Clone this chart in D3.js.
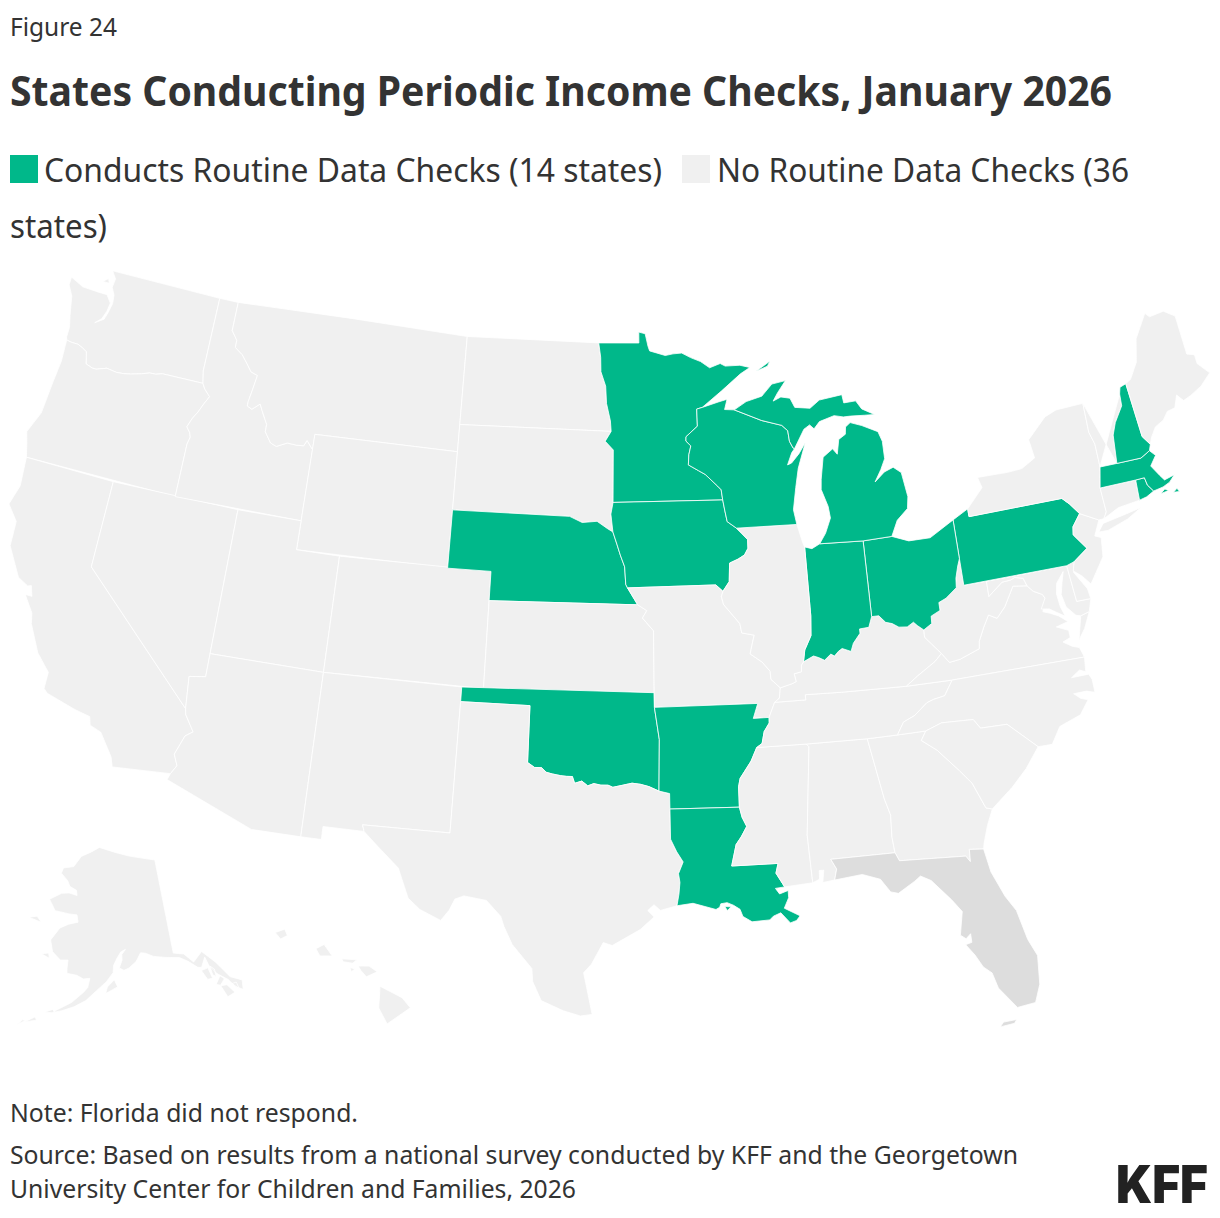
<!DOCTYPE html>
<html>
<head>
<meta charset="utf-8">
<script src="https://cdn.jsdelivr.net/npm/d3@7"></script>
<style>
html, body { margin: 0; background: #fff; }
svg { display: block; }
text { font-family: "Noto Sans", sans-serif; fill: #333; }
</style>
</head>
<body>
<svg id="chart" width="1220" height="1218"></svg>
<script>
const conducts = ["Minnesota", "Michigan", "Wisconsin", "Iowa", "Nebraska", "Oklahoma", "Arkansas", "Louisiana",
    "Indiana", "Ohio", "Pennsylvania", "New Hampshire", "Massachusetts", "Rhode Island"]
const noResponse = ["Florida"]
const legendLabels = ["Conducts Routine Data Checks (14 states)", "No Routine Data Checks (36", "states)"]

// shared borders, lon/lat
const columbia = [[-124.0,46.25],[-123.75,46.22],[-123.4,46.22],[-123.15,46.15],[-122.9,46.05],[-122.82,45.85],[-122.75,45.65],[-122.4,45.57],[-122.2,45.57],[-121.7,45.7],[-121.2,45.65],[-120.85,45.67],[-120.5,45.72],[-120,45.82],[-119.6,45.92],[-119.3,45.93],[-118.98,46.0],[-116.92,46.0]]
const snake = [[-116.92,46.0],[-116.78,45.83],[-116.46,45.6],[-116.67,45.3],[-116.85,45.0],[-117.05,44.75],[-117.22,44.42],[-117.03,44.25],[-116.95,44.1],[-117.03,43.85],[-117.03,42.0]]
const idMt = [[-116.05,49],[-116.05,48.0],[-115.72,47.7],[-115.72,47.45],[-115.3,47.25],[-115,47.0],[-114.7,46.73],[-114.35,46.65],[-114.45,46.15],[-114.55,45.7],[-114.55,45.55],[-114.3,45.47],[-113.95,45.7],[-113.8,45.5],[-113.45,45.05],[-113.45,44.8],[-113.1,44.45],[-112.8,44.37],[-112.3,44.55],[-111.85,44.53],[-111.5,44.55],[-111.38,44.75],[-111.05,44.47]]
const coloradoRiver = [[-114.63,35.0],[-114.57,34.8],[-114.13,34.27],[-114.43,34.08],[-114.72,33.4],[-114.52,33.03],[-114.72,32.72]]
const redNorth = [[-97.23,49],[-97.12,48.5],[-97.1,48.0],[-96.85,47.5],[-96.8,46.9],[-96.6,46.3],[-96.56,45.94]]
const sdMn = [[-96.56,45.94],[-96.85,45.6],[-96.45,45.3],[-96.45,43.5]]
const sdNe = [[-96.45,42.49],[-96.7,42.6],[-97.2,42.85],[-97.9,42.8],[-98.5,43.0],[-104.05,43.0]]
const neIa = [[-96.45,43.5],[-96.55,43.1],[-96.45,42.49],[-96.25,42.05],[-96.1,41.7],[-95.9,41.3],[-95.85,40.7]]
const neMo = [[-95.85,40.7],[-95.77,40.58],[-95.31,40.0]]
const ksMo = [[-95.31,40.0],[-94.9,39.8],[-95.1,39.55],[-94.61,39.11],[-94.62,37]]
const redRiver = [[-94.48,33.64],[-94.9,33.8],[-95.25,33.88],[-95.6,33.92],[-96,33.85],[-96.4,33.78],[-96.6,33.85],[-96.9,33.85],[-97.2,33.9],[-97.45,33.82],[-97.7,33.98],[-98,33.9],[-98.1,34.13],[-98.35,34.13],[-98.6,34.15],[-98.95,34.2],[-99.2,34.25],[-99.4,34.4],[-99.7,34.4],[-100,34.56]]
const okAr = [[-94.62,36.5],[-94.43,35.4],[-94.48,33.64]]
const sabine = [[-94.04,31.99],[-93.8,31.55],[-93.55,31.2],[-93.75,30.8],[-93.7,30.5],[-93.75,30.1],[-93.84,29.7]]
const mnWi = [[-92.01,46.71],[-92.29,46.66],[-92.29,46.07],[-92.87,45.72],[-92.88,45.57],[-92.65,45.4],[-92.76,45.1],[-92.8,44.75],[-92.32,44.54],[-92.0,44.4],[-91.43,43.98],[-91.27,43.85],[-91.22,43.5]]
const iaWi = [[-91.22,43.5],[-91.15,43.15],[-91.06,42.75],[-90.64,42.51]]
const iaIl = [[-90.64,42.51],[-90.42,42.33],[-90.15,42.1],[-90.16,41.8],[-90.34,41.58],[-90.65,41.45],[-91.05,41.33],[-91.11,40.7],[-91.42,40.38]]
const moIl = [[-91.42,40.38],[-91.5,40.2],[-91.42,39.93],[-90.73,39.25],[-90.67,38.93],[-90.12,38.83],[-90.21,38.6],[-90.35,38.2],[-89.85,37.9],[-89.52,37.57],[-89.51,37.29],[-89.13,36.98]]
const kyMo = [[-89.13,36.98],[-89.2,36.63],[-89.42,36.5]]
const tnMo = [[-89.42,36.5],[-89.7,36.0]]
const arTn = [[-89.7,36.0],[-89.71,35.81],[-89.95,35.53],[-90.07,35.13],[-90.31,35.0]]
const arMs = [[-90.31,35.0],[-90.58,34.55],[-91.08,33.98],[-91.16,33.7],[-91.17,33.0]]
const laMs = [[-91.17,33.0],[-91.08,32.65],[-90.91,32.33],[-91.16,31.98],[-91.38,31.73],[-91.6,31.0],[-89.73,31.0],[-89.84,30.67],[-89.53,30.18]]
const ilKy = [[-89.13,36.98],[-88.6,37.09],[-88.42,37.15],[-88.48,37.42],[-88.16,37.47],[-88.13,37.7],[-88.03,37.8]]
const inKy = [[-88.03,37.8],[-87.57,37.97],[-87.35,37.9],[-87.1,37.79],[-86.8,37.98],[-86.65,37.9],[-86.45,38.05],[-86.28,38.13],[-85.9,38.0],[-85.76,38.27],[-85.42,38.58],[-85.42,38.73],[-85.0,38.75],[-84.82,39.1]]
const kyOh = [[-84.82,39.1],[-84.5,39.1],[-84.23,38.85],[-83.95,38.78],[-83.67,38.63],[-83.3,38.6],[-83.0,38.73],[-82.85,38.6],[-82.59,38.42]]
const ohWv = [[-82.59,38.42],[-82.2,38.6],[-82.18,38.85],[-81.75,39.0],[-81.75,39.27],[-81.4,39.38],[-80.87,39.68],[-80.82,40.0],[-80.65,40.4],[-80.52,40.64]]
const wabash = [[-88.03,37.8],[-87.93,38.2],[-87.6,38.67],[-87.53,39.35],[-87.53,41.7]]
const wiMi = [[-90.42,46.57],[-89.09,46.14],[-88.12,45.92],[-87.85,45.72],[-87.81,45.35],[-87.66,45.11],[-87.59,45.09]]
const almsLine = [[-88.2,35],[-88.1,34.9],[-88.47,31.9],[-88.4,30.25]]
const gaAl = [[-85.61,34.98],[-85.18,32.87],[-85.0,32.3],[-85.05,31.55],[-85.0,31.0]]
const savannah = [[-83.11,35],[-83.35,34.7],[-82.75,34.3],[-81.95,33.5],[-81.5,33.0],[-81.1,32.1],[-80.85,32.03]]
const gaFl = [[-85.0,31.0],[-84.86,30.71],[-82.2,30.57],[-82.05,30.36],[-82.02,30.78],[-81.45,30.72]]
const tnNc = [[-84.32,34.99],[-84.0,35.4],[-83.5,35.57],[-82.9,35.95],[-82.6,36.03],[-82.1,36.1],[-81.68,36.59]]
const kyVa = [[-83.68,36.6],[-83.13,36.9],[-82.3,37.3],[-81.97,37.54]]
const kyWv = [[-81.97,37.54],[-82.6,38.17],[-82.59,38.42]]
const vaWv = [[-81.97,37.54],[-81.68,37.2],[-81.2,37.25],[-80.3,37.5],[-80.25,37.75],[-79.95,38.2],[-79.65,38.58],[-79.3,38.42],[-78.87,38.76],[-78.35,39.4],[-77.72,39.32]]
const potomacUp = [[-77.72,39.32],[-77.83,39.6],[-78.2,39.68],[-78.4,39.62],[-78.8,39.6],[-79.49,39.2],[-79.48,39.72]]
const potomacLow = [[-77.04,38.79],[-77.12,38.93],[-77.5,39.1],[-77.72,39.32]]
const delawareRiver = [[-75.35,42.0],[-75.05,41.75],[-74.7,41.36],[-75.13,40.97],[-75.2,40.7],[-74.72,40.15],[-75.42,39.8]]
const nyVt = [[-73.27,42.75],[-73.25,43.55],[-73.4,44.0],[-73.35,45.01]]
const connecticutRiver = [[-72.46,42.73],[-72.3,43.7],[-72.05,44.1],[-71.55,44.6],[-71.5,45.01]]
const nhMe = [[-71.08,45.3],[-70.98,43.4],[-70.7,43.07]]

const rev = a => a.slice().reverse()

const WA = [[[-117.03,49],[-122.76,49],[-122.5,48.75],[-122.55,48.45],[-122.35,48.2],[-122.3,47.9],[-122.4,47.55],[-122.5,47.3],[-122.9,47.1],[-122.62,47.3],[-122.47,47.6],[-122.42,47.9],[-122.7,48.15],[-123.15,48.15],[-124,48.17],[-124.7,48.38],[-124.7,48.1],[-124.4,47.75],[-124.2,47.1],[-124.05,46.7],[-124.05,46.35],...columbia,[-117.04,46.42]],
    [[-123.1,48.55],[-122.85,48.7],[-122.75,48.55]]]
const OR = [[...rev(columbia),[-123.95,45.5],[-124.05,44.7],[-124.15,43.6],[-124.55,42.84],[-124.4,42.5],[-124.21,42.0],[-117.03,42.0],...rev(snake).slice(1)]]
const CA = [[[-124.21,42],[-120,42],[-120,39],...coloradoRiver,[-117.12,32.53],[-117.25,32.85],[-117.9,33.6],[-118.4,33.75],[-118.5,34.03],[-119.2,34.15],[-120.47,34.45],[-120.65,34.58],[-120.65,35.15],[-121.3,35.7],[-121.9,36.6],[-122.0,36.95],[-122.5,37.5],[-122.2,37.5],[-122.35,37.85],[-122.5,37.8],[-123.0,38.0],[-123.75,38.95],[-123.8,39.8],[-124.35,40.3],[-124.1,41.0]]]
const NV = [[[-120,42],[-114.04,42],[-114.05,36.2],[-114.75,36.1],[-114.63,35],[-120,39]]]
const ID = [[[-117.03,49],...idMt,[-111.05,42],...rev(snake),[-117.04,46.42]]]
const MT = [[[-116.05,49],[-104.05,49],[-104.05,45],[-111.05,45],...rev(idMt)]]
const WY = [[[-111.05,45],[-104.05,45],[-104.05,41],[-111.05,41]]]
const UT = [[[-114.04,42],[-111.05,42],[-111.05,41],[-109.05,41],[-109.05,37],[-114.05,37]]]
const CO = [[[-109.05,41],[-102.05,41],[-102.05,37],[-109.05,37]]]
const AZ = [[[-114.05,37],[-109.05,37],[-109.05,31.33],[-111.07,31.33],[-114.81,32.5],...rev(coloradoRiver),[-114.75,36.1],[-114.05,36.2]]]
const NM = [[[-109.05,37],[-103,37],[-103.04,32],[-106.62,32],[-106.53,31.78],[-108.21,31.78],[-108.21,31.33],[-109.05,31.33]]]
const ND = [[[-104.05,49],...redNorth,[-104.05,45.94]]]
const SD = [[[-104.05,45.94],...sdMn,[-96.55,43.1],...sdNe]]
const NE = [[...rev(sdNe),...neIa.slice(3),...neMo,[-102.05,40],[-102.05,41],[-104.05,41]]]
const KS = [[[-102.05,40],...ksMo,[-102.05,37]]]
const OK = [[[-103,37],[-94.62,37],...okAr,...redRiver,[-100,36.5],[-103,36.5]]]
const TX = [[[-103,36.5],[-100,36.5],...rev(redRiver),[-94.04,33.55],[-94.04,33.02],...sabine,[-94.5,29.55],[-94.75,29.75],[-95,29.55],[-94.75,29.33],[-95.3,28.9],[-96.4,28.35],[-96.75,28.45],[-97.2,27.7],[-97.5,27.4],[-97.4,27],[-97.15,25.96],[-97.6,25.9],[-98.25,26.07],[-99.1,26.4],[-99.45,27.05],[-99.5,27.5],[-100.3,28.3],[-100.65,28.9],[-100.8,29.25],[-101.4,29.77],[-102.3,29.88],[-102.65,29.75],[-102.85,29.35],[-103.15,28.98],[-104,29.3],[-104.5,29.65],[-104.7,30.05],[-105,30.65],[-105.95,31.35],[-106.53,31.78],[-106.62,32],[-103.04,32]]]
const MN = [[[-97.23,49],[-95.15,49],[-95.15,49.38],[-94.82,49.32],[-94.68,48.88],[-94.6,48.72],[-93.8,48.55],[-93.4,48.6],[-92.95,48.62],[-92.5,48.45],[-92,48.3],[-91.55,48.07],[-91,48.2],[-90.75,48.1],[-90,48.1],[-89.5,48],[-90,47.8],[-91,47.25],...mnWi,...rev(sdMn),...rev(redNorth)]]
const IA = [[[-96.45,43.5],...iaWi,...iaIl,[-91.73,40.61],[-95.77,40.58],...rev(neIa)]]
const MO = [[[-95.77,40.58],[-91.73,40.61],...moIl,...kyMo,...tnMo,[-90.38,36],[-90.15,36.5],[-94.62,36.5],[-94.62,37],...rev(ksMo)]]
const AR = [[[-94.62,36.5],[-90.15,36.5],[-90.38,36],...arTn,...arMs,[-94.04,33.02],[-94.04,33.55],...rev(okAr)]]
const LA = [[[-94.04,33.02],...laMs,[-89.9,30.15],[-89.75,29.95],[-89.4,30.05],[-89.4,29.8],[-89.6,29.45],[-89,29.15],[-89.15,29],[-89.4,28.93],[-89.75,29.3],[-90.05,29.2],[-90.2,29.08],[-90.9,29.05],[-91.25,29.25],[-91.35,29.5],[-91.6,29.65],[-91.85,29.75],[-92.1,29.72],[-92.15,29.6],[-92.3,29.53],[-93.2,29.77],...rev(sabine)],
    [[-91.95,29.62],[-91.7,29.6],[-91.85,29.48]]]
const MS = [[[-90.31,35],...almsLine,...rev(laMs),...rev(arMs)]]
const AL = [[[-88.2,35],...gaAl,[-87.6,31],[-87.4,30.65],[-87.52,30.28],[-88.0,30.23],[-87.92,30.65],[-88.1,30.65],[-88.12,30.35],[-88.4,30.25],...rev(almsLine)]]
const GA = [[[-85.61,34.98],[-84.32,34.99],...savannah,[-81.15,31.5],[-81.4,30.9],...rev(gaFl),...rev(gaAl)]]
const FL = [[[-87.6,31],...gaFl,[-81.3,29.9],[-80.9,29],[-80.55,28.45],[-80.3,27.4],[-80.03,26.8],[-80.13,25.8],[-80.4,25.2],[-81.1,25.13],[-81.7,25.9],[-81.85,26.45],[-82.15,26.7],[-82.4,27.15],[-82.7,27.55],[-82.45,27.6],[-82.45,27.9],[-82.65,27.75],[-82.85,27.9],[-82.65,28.7],[-83.0,29.15],[-83.7,29.9],[-84.1,30.1],[-84.35,29.95],[-85.05,29.6],[-85.35,29.68],[-85.7,30.15],[-86.4,30.38],[-87.52,30.28],[-87.4,30.65]],
    [[-81.85,24.55],[-81.3,24.6],[-81.2,24.72],[-81.7,24.7]]]
const TN = [[[-90.31,35],[-88.2,35],[-85.61,34.98],...tnNc,[-83.68,36.6],[-86.5,36.65],[-88.07,36.68],[-88.07,36.5],[-89.42,36.5],[-89.7,36],...arTn]]
const KY = [[[-89.42,36.5],[-88.07,36.5],[-88.07,36.68],[-86.5,36.65],...kyVa,...kyWv,...rev(kyOh),...rev(inKy),...rev(ilKy),...kyMo]]
const VA = [[[-83.68,36.6],[-81.68,36.59],[-75.87,36.55],[-76,36.9],[-76.3,37],[-76.65,37.2],[-76.3,37.3],[-76.3,37.55],[-76.8,37.75],[-76.25,37.85],[-76.6,38.1],[-76.95,38.25],[-77.25,38.35],...potomacLow,...rev(vaWv),...rev(kyVa)],
    [[-75.24,38.03],[-75.65,37.95],[-75.95,37.15],[-75.6,37.5]]]
const WV = [[...kyWv,...ohWv,[-80.52,39.72],[-79.48,39.72],...rev(potomacUp),...rev(vaWv)]]
const MD = [[[-79.48,39.72],[-75.79,39.72],[-75.69,38.46],[-75.05,38.45],[-75.24,38.03],[-75.65,37.95],[-75.85,38],[-76.2,38.35],[-76.3,38.8],[-76.15,39.2],[-76,39.55],[-76.4,39.2],[-76.5,38.85],[-76.45,38.4],[-76.32,38.05],[-76.6,38.2],[-76.95,38.4],[-77.3,38.45],...potomacLow,...potomacUp]]
const DE = [[[-75.79,39.72],[-75.42,39.8],[-75.55,39.45],[-75.1,38.8],[-75.05,38.45],[-75.69,38.46]]]
const PA = [[[-80.52,41.98],[-79.76,42.27],[-79.76,42],...delawareRiver,[-75.79,39.72],[-80.52,39.72]]]
const NJ = [[[-74.7,41.36],[-73.9,41],[-74.25,40.5],[-73.98,40.4],[-74.1,39.75],[-74.9,38.93],[-75.2,39.25],[-75.55,39.5],[-75.42,39.8],[-74.72,40.15],[-75.2,40.7],[-75.13,40.97]]]
const NY = [[[-79.76,42.27],[-79.76,42],[-75.35,42],[-75.05,41.75],[-74.7,41.36],[-73.9,41],[-73.66,41],[-73.48,41.21],[-73.5,42.05],...nyVt,[-74.7,45],[-75.3,44.85],[-76.3,44.2],[-76.2,43.55],[-76.9,43.28],[-77.6,43.25],[-79.05,43.27],[-78.92,42.9]],
    [[-74.03,40.6],[-73.75,40.85],[-72.6,40.98],[-71.87,41.07],[-72.6,40.8],[-73.6,40.58]]]
const CT = [[[-73.5,42.05],[-71.8,42.02],[-71.86,41.32],[-72.9,41.25],[-73.66,41],[-73.48,41.21]]]
const RI = [[[-71.8,42.02],[-71.38,42.02],[-71.33,41.75],[-71.12,41.5],[-71.5,41.37],[-71.86,41.32]]]
const MA = [[[-73.5,42.05],[-73.27,42.75],[-72.46,42.73],[-71.3,42.7],[-70.82,42.87],[-70.6,42.66],[-70.95,42.35],[-70.65,41.95],[-70.5,41.77],[-70,41.85],[-70.3,41.65],[-70.65,41.55],[-71.12,41.5],[-71.33,41.75],[-71.38,42.02],[-71.8,42.02]],
    [[-70.83,41.35],[-70.45,41.38],[-70.6,41.47]],[[-70.25,41.28],[-69.97,41.25],[-70.05,41.38]]]
const VT = [[...rev(connecticutRiver),[-73.35,45.01],...rev(nyVt)]]
const NH = [[...connecticutRiver,[-71.4,45.23],...nhMe,[-70.82,42.87],[-71.3,42.7]]]
const ME = [[...nhMe,[-70.55,43.3],[-70.25,43.6],[-69.8,43.75],[-69.5,44],[-69.1,44.05],[-68.85,44.45],[-68.6,44.2],[-68.2,44.3],[-67.6,44.5],[-67,44.85],[-67.45,45.28],[-67.45,45.6],[-67.8,45.7],[-67.8,47.07],[-68.3,47.35],[-69.05,47.3],[-69.23,47.46],[-70,46.7],[-70.3,45.92],[-70.8,45.4]]]
const NC = [[[-84.32,34.99],[-83.11,35],[-82.4,35.2],[-81.05,35.15],[-80.8,34.82],[-79.67,34.8],[-78.55,33.86],[-77.95,33.85],[-77.5,34.4],[-76.55,34.65],[-76.1,35.1],[-76.4,35.2],[-76.65,35.4],[-76.1,35.4],[-75.75,35.3],[-75.75,35.75],[-75.85,35.95],[-76.6,35.95],[-76.2,36.15],[-75.95,36.05],[-75.87,36.55],...rev(tnNc)]]
const SC = [[...savannah,[-79.9,32.65],[-79.2,33.2],[-78.55,33.86],[-79.67,34.8],[-80.8,34.82],[-81.05,35.15],[-82.4,35.2]]]
const OH = [[...rev(ohWv),...rev(kyOh),[-84.8,41.7],[-83.45,41.73],[-82.7,41.5],[-81.7,41.5],[-80.52,41.98]]]
const IN = [[[-87.53,41.7],[-87.2,41.62],[-86.82,41.76],[-84.8,41.7],...rev(inKy),...wabash.slice(1)]]
const IL = [[[-90.64,42.51],[-87.8,42.49],[-87.6,41.85],...rev(wabash),...rev(ilKy),...rev(moIl),...rev(iaIl)]]
const WI = [[[-92.01,46.71],[-91.2,46.87],[-90.75,46.95],[-90.9,46.6],[-90.42,46.57],...wiMi,[-87.75,44.95],[-88,44.55],[-87.8,44.6],[-87.4,44.9],[-87.05,45.25],[-87.5,44.4],[-87.7,43.75],[-87.9,43],[-87.8,42.49],...rev(iaWi),...rev(mnWi)]]
const MI = [[[-90.42,46.57],[-89.8,46.83],[-89,46.98],[-88.45,47.37],[-87.75,47.45],[-88.2,47.05],[-88.45,46.78],[-88.05,46.9],[-87.6,46.83],[-87.4,46.5],[-86.65,46.42],[-86.15,46.67],[-85,46.77],[-84.95,46.48],[-84.35,46.5],[-84.1,46.2],[-83.5,45.95],[-84,45.97],[-84.7,46],[-85.05,46],[-85.5,46.08],[-86.25,45.93],[-86.55,45.7],[-86.75,45.85],[-87.05,45.72],...rev(wiMi)],
    [[-86.82,41.76],[-84.8,41.7],[-83.45,41.73],[-83.1,42.25],[-82.55,42.6],[-82.45,43],[-82.6,43.85],[-82.95,44.07],[-83.4,43.95],[-83.9,43.65],[-83.55,44.05],[-83.3,44.4],[-83.3,45],[-83.45,45.35],[-84.2,45.63],[-84.75,45.78],[-85,45.65],[-85.05,45.4],[-85.4,45.25],[-85.55,44.75],[-85.75,44.95],[-86.25,44.7],[-86.45,43.95],[-86.5,43.6],[-86.25,43],[-86.2,42.6],[-86.5,42.1]],
    [[-89.2,47.85],[-88.45,48.17],[-88.6,48]]]
const AK = [[[-141,69.65],[-144,70],[-148,70.4],[-152,70.85],[-156.7,71.35],[-159,70.85],[-161.8,70.3],[-163.5,69.2],[-166.2,68.9],[-166.5,68.35],[-164.5,67.7],[-163.8,67.2],[-162,66.9],[-161.7,66.4],[-163.7,66.55],[-165.5,66.4],[-168.1,65.6],[-166.3,64.6],[-163,64.5],[-161.2,64.5],[-160.8,63.8],[-162.8,63.5],[-164.6,63],[-166.1,61.7],[-165.3,60.6],[-163.5,59.9],[-162,60],[-162,59.2],[-161.9,58.7],[-160,58.6],[-158.7,58.3],[-157.5,58.4],[-157.8,57.5],[-158.5,57],[-160.5,55.9],[-162.9,55],[-163.5,54.7],[-162,55],[-160,55.5],[-158,56.2],[-156.2,57.2],[-154.4,58.1],[-153.1,59],[-153,59.7],[-152.3,60.4],[-151.5,61],[-150.5,61.25],[-151.3,60.75],[-151.3,60.2],[-151.9,59.45],[-151,59.2],[-150,59.4],[-148.5,60],[-147.5,60.8],[-146.5,60.7],[-145,60.3],[-142.5,60],[-140,59.75],[-138.5,59.2],[-137,58.4],[-136.3,58.3],[-135.2,59.2],[-134.9,58.3],[-133.9,57.3],[-132.3,56.4],[-131.5,55.5],[-130.4,55],[-130,55.9],[-131.8,56.6],[-133.5,58.4],[-135.5,59.8],[-137.5,59],[-139,60],[-141,60.3]],
    [[-154.5,56.95],[-152.3,57.6],[-152.9,58.3],[-154.2,57.6]],
    [[-167.4,60.2],[-165.7,59.9],[-166,60.4]],
    [[-171.7,63.4],[-168.8,63.2],[-170,63.7]],
    [[-164.9,54.6],[-163.1,54.7],[-163.6,55]],
    [[-167.9,53.3],[-166,53.7],[-166.3,54]],
    [[-169,52.9],[-167.9,53.4],[-168.2,53.5]],
    [[-174.5,52.05],[-172.9,52.3],[-174,52.4]],
    [[-136.5,58],[-135.2,58.1],[-134.9,57],[-135.8,57]],
    [[-134.75,58.2],[-134.1,57.8],[-134.2,57.05],[-134.7,57.3]],
    [[-134.6,56.3],[-133.5,57],[-132.9,56.6],[-133.9,56.1]],
    [[-133.9,56.05],[-132.8,55.95],[-131.9,55],[-133.3,54.8]],
    [[-131.9,55.9],[-131.1,55.9],[-131,55.2]]]
const HI = [[[-155.9,20.25],[-155.1,19.85],[-154.8,19.5],[-155.65,18.95],[-155.95,19.5]],
    [[-156.7,20.95],[-156.3,20.95],[-156,20.75],[-156.4,20.58],[-156.6,20.8]],
    [[-157.3,21.2],[-156.75,21.17],[-156.9,21.05],[-157.25,21.1]],
    [[-157,20.9],[-156.82,20.85],[-156.95,20.75]],
    [[-158.25,21.55],[-157.95,21.7],[-157.65,21.3],[-158.1,21.3]],
    [[-159.75,22.1],[-159.4,22.22],[-159.3,22],[-159.55,21.88]]]

const stateShapes = {
    Washington: WA, Oregon: OR, California: CA, Nevada: NV, Idaho: ID, Montana: MT, Wyoming: WY, Utah: UT, Colorado: CO,
    Arizona: AZ, "New Mexico": NM, "North Dakota": ND, "South Dakota": SD, Nebraska: NE, Kansas: KS, Oklahoma: OK, Texas: TX,
    Minnesota: MN, Iowa: IA, Missouri: MO, Arkansas: AR, Louisiana: LA, Mississippi: MS, Alabama: AL, Georgia: GA, Florida: FL,
    Tennessee: TN, Kentucky: KY, Virginia: VA, "West Virginia": WV, Maryland: MD, Delaware: DE, Pennsylvania: PA, "New Jersey": NJ,
    "New York": NY, Connecticut: CT, "Rhode Island": RI, Massachusetts: MA, Vermont: VT, "New Hampshire": NH, Maine: ME,
    "North Carolina": NC, "South Carolina": SC, Ohio: OH, Indiana: IN, Illinois: IL, Wisconsin: WI, Michigan: MI, Alaska: AK, Hawaii: HI
}

const GREEN = "#00b88a", BLANK = "#f0f0f0", NORESP = "#dddddd"

// d3 wants clockwise rings on the sphere
function toFeature (name, rings) {
    const polys = rings.map(r => {
        let ring = r.concat([r[0]])
        if (d3.geoArea({type: "Polygon", coordinates: [ring]}) > 2 * Math.PI) ring = ring.slice().reverse()
        return [ring]
    })
    return {type: "Feature", properties: {name}, geometry: {type: "MultiPolygon", coordinates: polys}}
}

const features = Object.entries(stateShapes).map(([k, v]) => toFeature(k, v))
const svg = d3.select("#chart")
const projection = d3.geoAlbersUsa().scale(1665).translate([609, 643])
const path = d3.geoPath(projection)
const fill = d3.scaleOrdinal().domain(conducts.concat(noResponse)).range(conducts.map(() => GREEN).concat([NORESP])).unknown(BLANK)

svg.append("g").selectAll("path")
    .data(features)
    .join("path")
    .attr("d", path)
    .attr("fill", d => fill(d.properties.name))
    .attr("stroke", "#fff")
    .attr("stroke-width", 0.8)
    .attr("stroke-linejoin", "round")

// text, squeezed to the widths in the original
function label (str, x, y, size, width, weight) {
    return svg.append("text").attr("x", x).attr("y", y)
        .attr("font-size", size).attr("font-weight", weight || 400)
        .attr("textLength", width).attr("lengthAdjust", "spacingAndGlyphs")
        .text(str)
}

label("Figure 24", 10, 36, 26, 107)
label("States Conducting Periodic Income Checks, January 2026", 10, 106, 41, 1102, 700)
svg.append("rect").attr("x", 10).attr("y", 155).attr("width", 28).attr("height", 28).attr("fill", GREEN)
label(legendLabels[0], 44, 182, 33, 618)
svg.append("rect").attr("x", 682).attr("y", 155).attr("width", 28).attr("height", 28).attr("fill", BLANK)
label(legendLabels[1], 717, 182, 33, 412)
label(legendLabels[2], 10, 238, 33, 97)
label("Note: Florida did not respond.", 10, 1122, 26, 348)
label("Source: Based on results from a national survey conducted by KFF and the Georgetown", 10, 1164, 26, 1008)
label("University Center for Children and Families, 2026", 10, 1198, 26, 566)
label("KFF", 1116, 1203, 52, 92, 900).style("font-family", "Inter").style("fill", "#222")
</script>
</body>
</html>
